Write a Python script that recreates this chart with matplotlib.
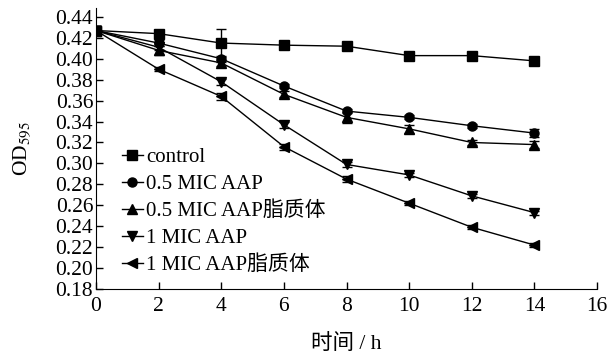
import numpy as np
import matplotlib
matplotlib.use('Agg')
import matplotlib.pyplot as plt

plt.rcParams['font.family'] = ['Liberation Serif', 'Noto Sans CJK SC']
plt.rcParams['mathtext.fontset'] = 'stix'

t = [0, 2, 4, 6, 8, 10, 12, 14]
labels = ['control', '0.5 MIC AAP', '0.5 MIC AAP脂质体', '1 MIC AAP', '1 MIC AAP脂质体']
markers = ['s', 'o', '^', 'v', '<']

control = [0.427, 0.424, 0.415, 0.413, 0.412, 0.403, 0.403, 0.398]
mic05 = [0.427, 0.415, 0.400, 0.374, 0.350, 0.344, 0.336, 0.329]
mic05_lip = [0.427, 0.408, 0.396, 0.366, 0.344, 0.333, 0.320, 0.318]
mic1 = [0.427, 0.411, 0.378, 0.337, 0.299, 0.289, 0.269, 0.253]
mic1_lip = [0.427, 0.390, 0.364, 0.316, 0.285, 0.262, 0.239, 0.222]

err_control = [0.004, 0.003, 0.013, 0.004, 0.002, 0.003, 0.002, 0.002]
err_mic05 = [0.004, 0.003, 0.003, 0.002, 0.002, 0.002, 0.002, 0.004]
err_mic05_lip = [0.004, 0.004, 0.003, 0.003, 0.005, 0.004, 0.002, 0.003]
err_mic1 = [0.004, 0.003, 0.003, 0.003, 0.002, 0.002, 0.002, 0.002]
err_mic1_lip = [0.004, 0.002, 0.003, 0.003, 0.003, 0.002, 0.002, 0.002]

series = [control, mic05, mic05_lip, mic1, mic1_lip]
errs = [err_control, err_mic05, err_mic05_lip, err_mic1, err_mic1_lip]

fig = plt.figure(figsize=(6.07, 3.54), dpi=100)
ax = fig.add_axes([96 / 607, 1 - 289 / 354, 501 / 607, 281 / 354])

for y, e, m, lab in zip(series, errs, markers, labels):
    ax.errorbar(t, y, yerr=e, color='black', marker=m, markersize=6.5,
                linewidth=1.0, elinewidth=1.0, capsize=3.5, capthick=1.0,
                label=lab)

ax.set_xlim(0, 16)
ax.set_ylim(0.18, 0.4485)
ax.set_xticks(np.arange(0, 17, 2))
ax.set_yticks(np.arange(0.18, 0.441, 0.02))
ax.set_yticklabels(['%.2f' % v for v in np.arange(0.18, 0.441, 0.02)])
ax.tick_params(direction='in', labelsize=15.5, length=5, width=1, pad=2)
ax.tick_params(axis='x', pad=6)
ax.spines['top'].set_visible(False)
ax.spines['right'].set_visible(False)

ax.set_xlabel('时间 / h', fontsize=15.5, labelpad=13)
ax.set_ylabel('OD$_{595}$', fontsize=15.5, labelpad=16)

handles, labs = ax.get_legend_handles_labels()
handles = [h[0] for h in handles]
leg = ax.legend(handles, labs, loc='lower left', bbox_to_anchor=(0.035, 0.02),
                frameon=False, fontsize=15, handlelength=1.0,
                handletextpad=0.15, labelspacing=0.35, borderaxespad=0)

fig.savefig('out.png', dpi=100)
